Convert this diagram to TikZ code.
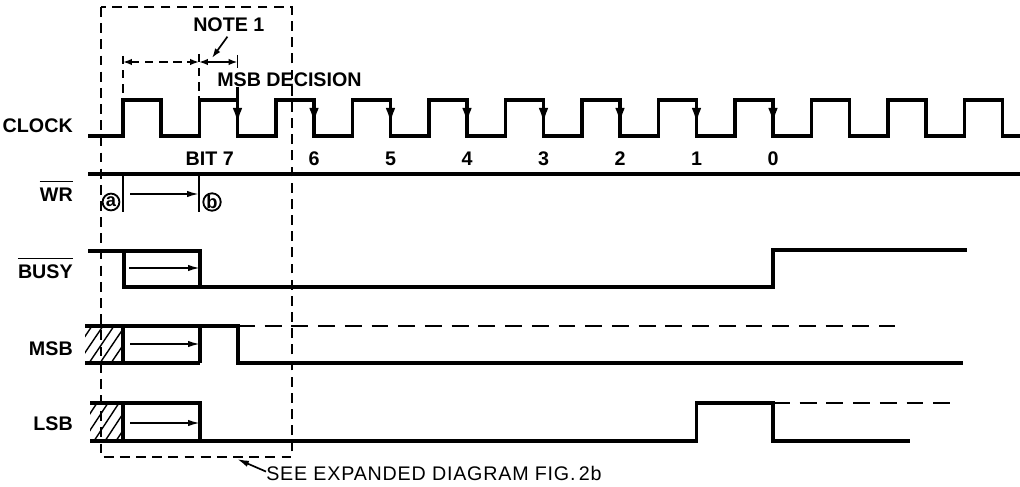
\documentclass[tikz,border=0pt]{standalone}
\usepackage{fontspec}
\setmainfont{Liberation Sans}
\usetikzlibrary{arrows.meta,positioning,calc}

\begin{document}
\begin{tikzpicture}[
    x=0.25mm, y=-0.25mm,
    >={Latex[length=3mm,width=1.6mm]},
    sig/.style={line width=2.2pt},
    sigdash/.style={line width=1.4pt,dash pattern=on 12pt off 7pt},
    thinline/.style={line width=1.2pt},
    zoombox/.style={line width=1.3pt,dash pattern=on 7pt off 4.5pt},
    dimdash/.style={line width=1.2pt,dash pattern=on 6pt off 4pt},
    edgearr/.style={sig,-{Latex[length=4mm,width=2.4mm]}},
    dimarr/.style={{Latex[length=2.2mm,width=1.6mm]}-{Latex[length=2.2mm,width=1.6mm]}},
    siglabel/.style={font=\fontsize{14}{16}\selectfont\bfseries,inner sep=0pt,anchor=base east},
    bitlabel/.style={font=\fontsize{14}{16}\selectfont\bfseries,inner sep=0pt,anchor=base},
    note/.style={font=\fontsize{14}{16}\selectfont\bfseries,inner sep=0pt,anchor=base west},
    circmark/.style={draw,circle,line width=1.3pt,minimum size=4.2mm,inner sep=0pt,
                     font=\fontsize{13}{14}\selectfont\bfseries},
    hatch/.style={line width=1pt},
  ]
  \useasboundingbox (0,0) rectangle (1020,487);

  % --- signal names ---
  \node[siglabel] (lclk)  at (73,132) {CLOCK};
  \node[siglabel] (lwr)   at (73,201) {WR};
  \node[siglabel] (lbusy) at (73,278) {BUSY};
  \node[siglabel] (lmsb)  at (73,355) {MSB};
  \node[siglabel] (llsb)  at (73,430) {LSB};
  \draw[thinline] ([yshift=4pt]lwr.north west) -- ([yshift=4pt]lwr.north east);
  \draw[thinline] ([yshift=4pt]lbusy.north west) -- ([yshift=4pt]lbusy.north east);

  % --- clock train ---
  \draw[sig] (88,136) \foreach \k in {0,...,11}{
      -- ({123+76.5*\k},136) -- ({123+76.5*\k},100)
      -- ({161+76.5*\k},100) -- ({161+76.5*\k},136)} -- (1020,136);

  % decision edges, bit 7 down to bit 0
  \node[bitlabel,anchor=base east] (bit7) at (234,165) {BIT 7};
  \foreach \k/\b in {1/7,2/6,3/5,4/4,5/3,6/2,7/1,8/0}{
    \draw[edgearr] ({161+76.5*\k},100) -- ({161+76.5*\k},124);
  }
  \foreach \k/\b in {2/6,3/5,4/4,5/3,6/2,7/1,8/0}{
    \node[bitlabel] (bit\b) at ({161+76.5*\k},165) {\b};
  }

  % --- MSB decision and note 1 ---
  \node[note] (dec)  at (217,87) {MSB DECISION};
  \node[note] (note1) at (193,32) {NOTE 1};
  \coordinate (msbfall) at (237.5,100);
  \draw[sig] (dec.south -| msbfall) -- (msbfall);

  \coordinate (d1) at (123,62);
  \coordinate (d2) at (199,62);
  \coordinate (d3) at (237.5,62);
  \coordinate (notetip) at (212,58);
  \draw[dimdash] (123,56) -- (123,100);
  \draw[dimdash] (199,54) -- (199,100);
  \draw[thinline] (237.5,55) -- (237.5,68);
  \draw[dimdash,dimarr] (d1) -- (d2);
  \draw[thinline,dimarr] (d2) -- (d3);
  \draw[thinline,-{Latex[length=2.4mm,width=1.6mm]}] ([xshift=-1pt,yshift=-3pt]note1.south) -- (notetip);

  % --- WR with a/b marks ---
  \draw[sig] (88,174) -- (1020,174);
  \draw[thinline] (123,174) -- (123,212);
  \draw[thinline] (199,174) -- (199,212);
  \node[circmark] (ma) at (111,202) {a};
  \node[circmark] (mb) at (212,202) {b};
  \coordinate (wra) at (130,194);
  \coordinate (wrb) at (199,194);
  \draw[thinline,->] (wra) -- (wrb);

  % --- BUSY ---
  \draw[sig] (88,251) -- (200,251) -- (200,287);
  \draw[sig] (124,251) -- (124,287) -- (773,287) -- (773,250) -- (967,250);
  \draw[thinline,->] (129,268) -- (200,268);

  % --- MSB ---
  \begin{scope}
    \clip (85,326) rectangle (123,363);
    \foreach \x in {45,56,...,125} \draw[hatch] (\x,363) -- ++(25,-37);
  \end{scope}
  \draw[sig] (85,326) -- (238,326) -- (238,363) -- (963,363);
  \draw[sig] (85,363) -- (200,363);
  \draw[sig] (123,326) -- (123,363);
  \draw[sig] (200,326) -- (200,363);
  \draw[sigdash] (238,326) -- (895,326);
  \draw[thinline,->] (130,344) -- (200,344);

  % --- LSB ---
  \begin{scope}
    \clip (90,403) rectangle (123,441);
    \foreach \x in {50,61,...,125} \draw[hatch] (\x,441) -- ++(25,-38);
  \end{scope}
  \draw[sig] (90,403) -- (200,403) -- (200,441);
  \draw[sig] (90,441) -- (696.5,441) -- (696.5,403) -- (773,403) -- (773,441) -- (910,441);
  \draw[sig] (123,403) -- (123,441);
  \draw[sigdash] (773,403) -- (955,403);
  \draw[thinline,->] (130,423) -- (200,423);

  % --- expanded-view box ---
  \draw[zoombox] (101,7) rectangle (292,457);
  \coordinate (seetip) at (237,459);
  \node[anchor=base west,inner sep=0pt,
        font=\fontsize{14}{16}\selectfont\addfontfeatures{LetterSpace=4}] (see) at (266,480)
        {SEE EXPANDED DIAGRAM FIG.\,2b};
  \draw[thinline,->] ([yshift=1pt]see.west) -- (seetip);

\end{tikzpicture}
\end{document}
